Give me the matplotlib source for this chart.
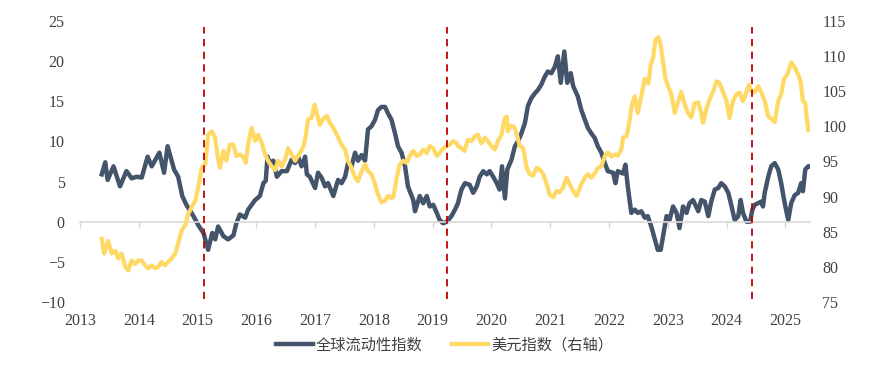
import numpy as np
import matplotlib
matplotlib.use('Agg')
from matplotlib import pyplot as plt

# global liquidity index (left axis), decimal year / value
liq_year = [2013.37, 2013.43, 2013.47, 2013.57, 2013.68, 2013.79, 2013.88, 2013.96, 2014.05, 2014.15,
            2014.22, 2014.35, 2014.43, 2014.49, 2014.60, 2014.67, 2014.74, 2014.81, 2014.93, 2015.01,
            2015.10, 2015.18, 2015.25, 2015.30, 2015.35, 2015.44, 2015.52, 2015.61, 2015.66, 2015.72,
            2015.81, 2015.86, 2015.92, 2015.98, 2016.06, 2016.12, 2016.16, 2016.19, 2016.23, 2016.29,
            2016.35, 2016.43, 2016.52, 2016.60, 2016.66, 2016.71, 2016.77, 2016.83, 2016.86, 2016.91,
            2017.00, 2017.05, 2017.11, 2017.17, 2017.22, 2017.31, 2017.39, 2017.45, 2017.51, 2017.56,
            2017.62, 2017.68, 2017.73, 2017.79, 2017.85, 2017.90, 2017.96, 2018.02, 2018.07, 2018.13,
            2018.19, 2018.24, 2018.30, 2018.36, 2018.41, 2018.47, 2018.53, 2018.58, 2018.67, 2018.70,
            2018.78, 2018.84, 2018.90, 2018.95, 2019.01, 2019.07, 2019.12, 2019.18, 2019.24, 2019.32,
            2019.38, 2019.43, 2019.49, 2019.55, 2019.63, 2019.69, 2019.75, 2019.80, 2019.86, 2019.92,
            2019.97, 2020.03, 2020.09, 2020.14, 2020.18, 2020.23, 2020.27, 2020.34, 2020.40, 2020.45,
            2020.51, 2020.57, 2020.62, 2020.68, 2020.74, 2020.79, 2020.85, 2020.91, 2020.96, 2021.02,
            2021.08, 2021.13, 2021.18, 2021.24, 2021.29, 2021.35, 2021.39, 2021.47, 2021.53, 2021.59,
            2021.64, 2021.70, 2021.76, 2021.81, 2021.87, 2021.93, 2021.98, 2022.07, 2022.11, 2022.15,
            2022.24, 2022.28, 2022.32, 2022.38, 2022.44, 2022.49, 2022.55, 2022.61, 2022.66, 2022.72,
            2022.78, 2022.83, 2022.88, 2022.92, 2022.98, 2023.03, 2023.09, 2023.15, 2023.20, 2023.26,
            2023.32, 2023.37, 2023.43, 2023.52, 2023.57, 2023.63, 2023.69, 2023.74, 2023.80, 2023.86,
            2023.91, 2023.97, 2024.03, 2024.08, 2024.14, 2024.20, 2024.24, 2024.28, 2024.34, 2024.40,
            2024.44, 2024.48, 2024.59, 2024.62, 2024.65, 2024.71, 2024.76, 2024.82, 2024.88, 2024.93,
            2024.99, 2025.05, 2025.10, 2025.16, 2025.22, 2025.27, 2025.30, 2025.34, 2025.39, 2025.43]
liq_val = [5.9, 7.4, 5.2, 6.9, 4.4, 6.3, 5.4, 5.6, 5.5, 8.1,
           6.9, 8.6, 6.1, 9.4, 6.5, 5.6, 3.2, 2.1, 0.7, -0.4,
           -1.4, -3.5, -1.4, -2.2, -0.6, -1.8, -2.2, -1.7, -0.2, 0.9,
           0.5, 1.5, 2.1, 2.7, 3.2, 4.8, 5.1, 8.1, 7.3, 7.6,
           5.6, 6.3, 6.3, 7.7, 7.3, 8.1, 6.9, 8.1, 5.9, 5.6,
           4.2, 6.1, 5.5, 4.4, 4.8, 3.2, 5.2, 4.8, 5.6, 7.3,
           6.9, 8.6, 7.6, 8.3, 7.6, 11.5, 11.9, 12.7, 13.9, 14.3,
           14.3, 13.5, 12.7, 11.0, 9.4, 8.6, 6.9, 4.4, 2.7, 1.3,
           3.2, 2.3, 3.2, 1.9, 2.1, 1.1, 0.2, -0.2, 0.0, 0.7,
           1.5, 2.3, 4.0, 4.8, 4.6, 3.6, 4.4, 5.6, 6.3, 5.9,
           6.3, 5.6, 4.8, 4.0, 6.9, 2.9, 6.5, 7.7, 9.4, 10.0,
           11.0, 12.3, 14.4, 15.4, 16.0, 16.4, 17.1, 18.1, 18.7, 18.5,
           19.3, 20.6, 17.3, 21.2, 17.3, 18.5, 16.9, 15.6, 13.9, 12.7,
           11.7, 11.0, 10.4, 9.4, 8.6, 7.3, 6.3, 6.1, 4.8, 6.3,
           6.0, 7.1, 4.4, 1.1, 1.5, 1.1, 1.3, 0.5, 0.7, -0.6,
           -2.2, -3.5, -3.5, -1.8, 0.7, 0.2, 1.9, 1.1, -0.8, 1.9,
           1.1, 2.3, 2.7, 1.3, 2.7, 2.5, 0.7, 2.5, 4.0, 4.2,
           4.8, 4.4, 3.6, 2.1, 0.2, 0.7, 2.7, 1.1, 0.0, 0.0,
           1.5, 2.1, 2.5, 1.9, 3.6, 5.6, 6.9, 7.3, 6.5, 4.8,
           2.3, 0.2, 2.3, 3.3, 3.6, 4.8, 3.8, 6.5, 6.9, 6.9]

# US dollar index (right axis)
dxy_year = [2013.37, 2013.41, 2013.48, 2013.54, 2013.60, 2013.65, 2013.71, 2013.77, 2013.82, 2013.88,
            2013.94, 2013.99, 2014.05, 2014.11, 2014.16, 2014.22, 2014.28, 2014.33, 2014.39, 2014.45,
            2014.50, 2014.56, 2014.62, 2014.67, 2014.73, 2014.79, 2014.84, 2014.90, 2014.96, 2015.01,
            2015.07, 2015.13, 2015.18, 2015.24, 2015.30, 2015.35, 2015.38, 2015.44, 2015.49, 2015.55,
            2015.61, 2015.66, 2015.72, 2015.78, 2015.82, 2015.86, 2015.92, 2015.98, 2016.03, 2016.09,
            2016.15, 2016.20, 2016.26, 2016.32, 2016.37, 2016.43, 2016.49, 2016.54, 2016.60, 2016.66,
            2016.71, 2016.80, 2016.84, 2016.88, 2016.94, 2016.99, 2017.03, 2017.08, 2017.14, 2017.20,
            2017.25, 2017.31, 2017.37, 2017.45, 2017.51, 2017.56, 2017.62, 2017.68, 2017.73, 2017.79,
            2017.85, 2017.90, 2017.96, 2018.02, 2018.07, 2018.13, 2018.19, 2018.24, 2018.30, 2018.33,
            2018.39, 2018.44, 2018.50, 2018.56, 2018.61, 2018.67, 2018.73, 2018.78, 2018.84, 2018.90,
            2018.95, 2019.01, 2019.07, 2019.12, 2019.18, 2019.24, 2019.29, 2019.35, 2019.41, 2019.43,
            2019.49, 2019.54, 2019.60, 2019.66, 2019.72, 2019.77, 2019.83, 2019.89, 2019.94, 2020.00,
            2020.06, 2020.11, 2020.17, 2020.23, 2020.26, 2020.28, 2020.33, 2020.39, 2020.44, 2020.48,
            2020.54, 2020.60, 2020.65, 2020.71, 2020.77, 2020.82, 2020.88, 2020.94, 2020.99, 2021.05,
            2021.11, 2021.16, 2021.22, 2021.28, 2021.33, 2021.39, 2021.45, 2021.53, 2021.59, 2021.64,
            2021.70, 2021.76, 2021.81, 2021.87, 2021.93, 2021.98, 2022.04, 2022.10, 2022.15, 2022.21,
            2022.24, 2022.30, 2022.35, 2022.39, 2022.44, 2022.49, 2022.55, 2022.61, 2022.67, 2022.71,
            2022.75, 2022.79, 2022.84, 2022.88, 2022.92, 2022.96, 2023.01, 2023.06, 2023.12, 2023.18,
            2023.23, 2023.29, 2023.35, 2023.40, 2023.46, 2023.52, 2023.57, 2023.60, 2023.66, 2023.71,
            2023.77, 2023.83, 2023.88, 2023.94, 2024.00, 2024.05, 2024.11, 2024.17, 2024.22, 2024.28,
            2024.34, 2024.38, 2024.43, 2024.48, 2024.54, 2024.59, 2024.65, 2024.71, 2024.76, 2024.82,
            2024.88, 2024.93, 2024.98, 2025.03, 2025.10, 2025.16, 2025.22, 2025.26, 2025.30, 2025.34,
            2025.39, 2025.43]
dxy_val = [84.0, 81.9, 83.7, 81.9, 82.3, 81.2, 81.9, 80.0, 79.5, 80.9,
           80.4, 80.9, 80.9, 80.2, 79.8, 80.2, 79.8, 80.0, 80.7, 80.2,
           80.7, 81.2, 81.9, 83.3, 85.2, 85.9, 87.5, 88.5, 89.4, 91.3,
           94.1, 94.6, 98.8, 99.3, 98.4, 95.3, 94.1, 96.5, 95.1, 97.4,
           97.4, 95.8, 96.0, 95.6, 94.8, 97.4, 99.8, 97.9, 98.8, 97.7,
           96.0, 95.1, 94.3, 93.8, 95.1, 94.3, 95.3, 96.9, 96.0, 95.1,
           95.8, 97.1, 98.6, 101.0, 101.2, 103.1, 101.9, 100.2, 101.1, 101.5,
           100.5, 99.8, 98.8, 97.4, 96.7, 95.1, 94.1, 92.7, 92.2, 93.6,
           94.6, 93.6, 93.2, 91.8, 90.3, 89.2, 89.4, 90.1, 89.8, 89.9,
           92.7, 94.6, 95.1, 94.8, 95.8, 96.5, 95.8, 96.0, 96.7, 96.2,
           97.2, 96.9, 95.8, 96.2, 96.9, 97.2, 97.4, 97.9, 97.6, 97.2,
           96.9, 96.5, 98.1, 97.9, 98.6, 98.8, 97.6, 98.4, 97.9, 97.2,
           96.7, 97.9, 98.8, 101.2, 101.4, 99.3, 100.1, 99.9, 98.6, 97.2,
           96.9, 94.1, 93.2, 93.0, 94.1, 93.9, 93.2, 91.8, 90.3, 89.9,
           90.8, 90.6, 91.3, 92.7, 91.8, 90.8, 90.1, 91.8, 92.7, 93.2,
           92.7, 93.3, 94.1, 94.3, 95.8, 96.3, 95.7, 96.0, 95.8, 96.7,
           98.4, 98.6, 100.7, 103.1, 104.3, 101.9, 104.3, 106.8, 106.1, 108.7,
           109.7, 112.3, 112.7, 111.6, 109.2, 106.8, 105.6, 104.6, 101.9, 103.6,
           104.9, 103.1, 101.8, 101.3, 103.3, 103.4, 101.9, 100.5, 102.5, 103.8,
           104.9, 106.4, 106.2, 104.9, 103.6, 101.2, 103.6, 104.6, 104.8, 103.6,
           104.9, 105.9, 105.0, 104.9, 105.7, 104.9, 103.6, 101.4, 101.1, 100.6,
           103.6, 104.6, 106.8, 107.3, 109.1, 108.4, 107.4, 106.4, 103.6, 103.3,
           99.4, 99.8]

event_years = [2015.11, 2019.24, 2024.43]
years = list(range(2013, 2026))
left_ticks = [-10, -5, 0, 5, 10, 15, 20, 25]
right_ticks = [75, 80, 85, 90, 95, 100, 105, 110, 115]

plt.rcParams['font.family'] = ['Liberation Serif', 'Noto Sans CJK SC', 'DejaVu Sans']

fig = plt.figure(figsize=(8.95, 3.75), dpi=100)
ax = fig.add_axes([0.0894, 0.1947, 0.8156, 0.7493])
ax2 = ax.twinx()

l1, = ax.plot(liq_year, liq_val, color='#44546A', lw=3.2, solid_joinstyle='round', label='全球流动性指数')
l2, = ax2.plot(dxy_year, dxy_val, color='#FFD966', lw=3.0, solid_joinstyle='round', label='美元指数（右轴）')
for ev in event_years:
    ax2.axvline(ev, ymin=0.01, ymax=0.98, color='#C00000', lw=1.3, ls=(0, (4, 3)))

ax.set_xlim(2013, 2025.42)
ax.set_ylim(-10, 25)
ax2.set_ylim(75, 115)
ax.set_xticks(years)
ax.set_yticks(left_ticks)
ax2.set_yticks(right_ticks)

for a in (ax, ax2):
    for s in a.spines.values():
        s.set_visible(False)
ax.spines['bottom'].set_visible(True)
ax.spines['bottom'].set_position(('data', 0))
ax.spines['bottom'].set_color('#d9d9d9')
ax.spines['bottom'].set_linewidth(1.2)

ax.tick_params(axis='x', direction='out', length=4, width=1, color='#d9d9d9',
               pad=62, labelsize=11.5, labelcolor='#404040')
ax.tick_params(axis='y', length=0, pad=11, labelsize=11.5, labelcolor='#404040')
ax2.tick_params(axis='y', length=0, pad=9, labelsize=11.5, labelcolor='#404040')

fig.legend(handles=[l1, l2], loc='lower center', bbox_to_anchor=(0.497, 0.02), ncol=2,
           frameon=False, handlelength=2.4, handletextpad=0.2, columnspacing=1.9,
           prop={'family': ['Noto Sans CJK SC', 'DejaVu Sans'], 'size': 11},
           labelcolor='#404040')

plt.savefig('out.png', dpi=100)
